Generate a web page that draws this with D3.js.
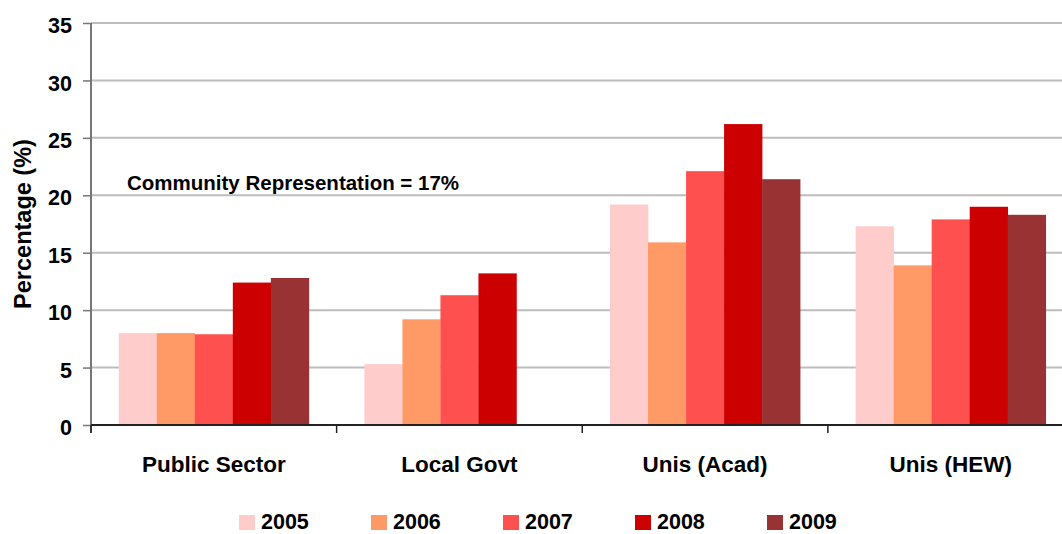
<!DOCTYPE html>
<html>
<head>
<meta charset="utf-8">
<script src="https://cdn.jsdelivr.net/npm/d3@7"></script>
<style>
  html, body { margin: 0; padding: 0; background: #fff; }
  svg { display: block; }
  text { font-family: "Liberation Sans", Arial, sans-serif; font-weight: bold; fill: #000; }
</style>
</head>
<body>
<svg id="chart" width="1062" height="534"></svg>
<script>
// ---- data ----
const categories = ["Public Sector", "Local Govt", "Unis (Acad)", "Unis (HEW)"];
const years = ["2005", "2006", "2007", "2008", "2009"];
const values2005 = [8.0, 5.3, 19.2, 17.3];
const values2006 = [8.0, 9.2, 15.9, 13.9];
const values2007 = [7.9, 11.3, 22.1, 17.9];
const values2008 = [12.4, 13.2, 26.2, 19.0];
const values2009 = [12.8, null, 21.4, 18.3];
const yTicks = [0, 5, 10, 15, 20, 25, 30, 35];
const colors = ["#FFCCCC", "#FF9966", "#FF5050", "#CC0000", "#993333"];
const annotation = "Community Representation = 17%";
const yLabel = "Percentage (%)";

const series = [values2005, values2006, values2007, values2008, values2009];

// ---- layout ----
const svg = d3.select("#chart");
const mLeft = 91, mRight = 1073.5, mTop = 23, mBottom = 425;

const x0 = d3.scaleBand().domain(categories).range([mLeft, mRight]).paddingInner(0).paddingOuter(0);
const x1 = d3.scaleBand().domain(years).range([0, x0.bandwidth()]).paddingInner(0).paddingOuter(0.73);
const y = d3.scaleLinear().domain([0, 35]).range([mBottom, mTop]);

// gridlines
svg.append("g").selectAll("line").data(yTicks.filter(d => d > 0)).join("line")
  .attr("x1", mLeft).attr("x2", 1062)
  .attr("y1", d => y(d)).attr("y2", d => y(d))
  .attr("stroke", "#bdbdbd").attr("stroke-width", 2);

// bars
const rows = [];
categories.forEach((c, ci) => {
  years.forEach((yr, yi) => {
    const v = series[yi][ci];
    if (v != null) rows.push({ c, yr, v, color: colors[yi] });
  });
});
svg.append("g").selectAll("rect").data(rows).join("rect")
  .attr("x", d => x0(d.c) + x1(d.yr))
  .attr("y", d => y(d.v))
  .attr("width", x1.bandwidth() + 0.3)
  .attr("height", d => y(0) - y(d.v))
  .attr("fill", d => d.color);

// y axis
const yAxis = svg.append("g").attr("transform", `translate(${mLeft},0)`)
  .call(d3.axisLeft(y).tickValues(yTicks).tickSize(8).tickPadding(11).tickFormat(d3.format("d")));
yAxis.select(".domain").attr("stroke", "#777").attr("stroke-width", 2)
  .attr("d", `M0,${mTop}V${mBottom + 8}`);
yAxis.selectAll(".tick line").attr("stroke", "#777").attr("stroke-width", 1.5);
yAxis.selectAll(".tick text")
  .attr("font-size", "21.5px").attr("font-family", "Liberation Sans, Arial, sans-serif")
  .attr("font-weight", "bold").attr("fill", "#000").attr("dy", "0.45em");

// x axis
const xAxis = svg.append("g").attr("transform", `translate(0,${mBottom})`);
xAxis.append("line").attr("x1", mLeft).attr("x2", 1062).attr("y1", 0).attr("y2", 0)
  .attr("stroke", "#222").attr("stroke-width", 2);
const boundaries = categories.map(c => x0(c));
xAxis.selectAll("line.tk").data(boundaries).join("line").attr("class", "tk")
  .attr("x1", d => d).attr("x2", d => d).attr("y1", 0).attr("y2", 8)
  .attr("stroke", "#222").attr("stroke-width", 1.5);
xAxis.selectAll("text").data(categories).join("text")
  .attr("x", d => x0(d) + x0.bandwidth() / 2)
  .attr("y", 47)
  .attr("text-anchor", "middle")
  .attr("font-size", "22.5px")
  .text(d => d);

// y label
svg.append("text")
  .attr("transform", `translate(31,${(mTop + mBottom) / 2}) rotate(-90)`)
  .attr("text-anchor", "middle")
  .attr("font-size", "23.5px")
  .text(yLabel);

// annotation
svg.append("text").attr("x", 127).attr("y", 190)
  .attr("font-size", "20.5px").text(annotation);

// legend
const legend = svg.append("g");
const lg = legend.selectAll("g").data(years).join("g")
  .attr("transform", (d, i) => `translate(${239 + i * 132},0)`);
lg.append("rect").attr("x", 0).attr("y", 515).attr("width", 16).attr("height", 15)
  .attr("fill", (d, i) => colors[i]);
lg.append("text").attr("x", 22).attr("y", 529).attr("font-size", "21.5px").text(d => d);
</script>
</body>
</html>
